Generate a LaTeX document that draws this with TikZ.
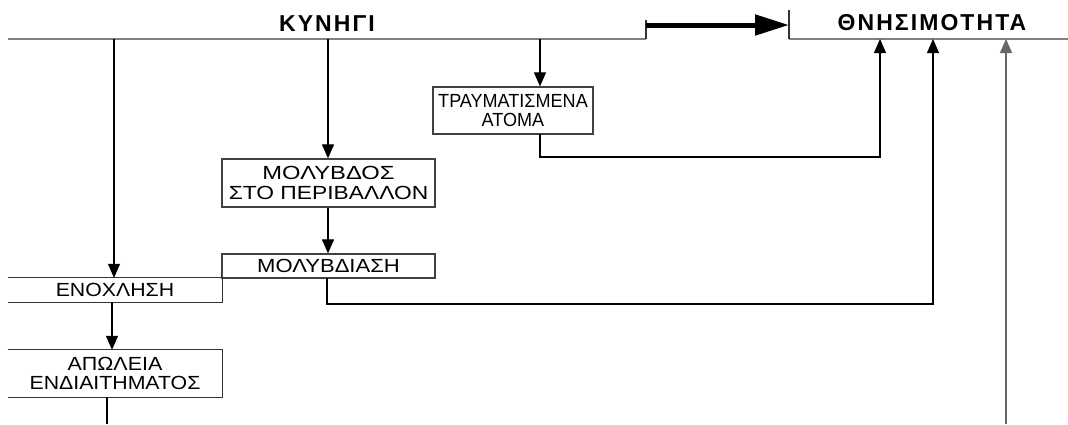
\documentclass[tikz,border=0pt]{standalone}
\usepackage{fontspec}
\usetikzlibrary{arrows.meta}
\newfontfamily\boxfont{Liberation Sans}
\newfontfamily\titlefont[LetterSpace=9]{Liberation Sans}
% horizontally resized line of box text
\newcommand{\widen}[2]{\scalebox{#1}[1]{#2}}
\begin{document}
\begin{tikzpicture}[x=1pt,y=-1pt,
  line/.style={line width=1.1pt,draw=black!80},
  rule/.style={line width=1.5pt,draw=black!50},
  arr/.style={line width=1.1pt,draw=black,-{Triangle[length=14pt,width=12pt]}},
  link/.style={line width=1.1pt,draw=black},
  label/.style={font=\boxfont\fontsize{19}{19.5}\selectfont,align=center,inner sep=0pt},
  title/.style={font=\titlefont\bfseries\fontsize{23}{24}\selectfont,inner sep=0pt},
  boxed/.style={label,draw=black!75,line width=1.2pt}]
\useasboundingbox[fill=white] (0,0) rectangle (1068,424);

% headings and their rules
\node[title] (hunt) at (327,24) {ΚΥΝΗΓΙ};
\node[title] (death) at (932,23) {ΘΝΗΣΙΜΟΤΗΤΑ};
\coordinate (huntW) at (8,39);
\coordinate (huntE) at (646,39);
\coordinate (deathW) at (789,39);
\coordinate (deathE) at (1068,39);
\draw[rule] (huntW) -- (huntE);
\draw[rule] (deathW) -- (deathE);
\draw[line] (huntE) -- ++(0,-19);
\draw[line] (deathW) -- ++(0,-29);
\coordinate (bigS) at (646,25);
\coordinate (bigT) at (789,25);
\draw[line width=5pt,-{Triangle[length=34pt,width=20pt]}] (bigS) -- (bigT);

% boxes
\node[boxed,minimum width=160pt,minimum height=47pt] (inj) at (513,110.5)
  {\widen{0.95}{ΤΡΑΥΜΑΤΙΣΜΕΝΑ}\\\widen{0.95}{ΑΤΟΜΑ}};
\node[boxed,minimum width=213pt,minimum height=48pt] (lead) at (328.5,183)
  {\widen{1.25}{ΜΟΛΥΒΔΟΣ}\\\widen{1.20}{ΣΤΟ ΠΕΡΙΒΑΛΛΟΝ}};
\node[boxed,minimum width=213pt,minimum height=24pt] (pois) at (328.5,266)
  {\widen{1.16}{ΜΟΛΥΒΔΙΑΣΗ}};
\node[label,minimum width=214pt,minimum height=24pt] (dist) at (115,290)
  {\widen{1.12}{ΕΝΟΧΛΗΣΗ}};
\node[label,minimum width=214pt,minimum height=47pt] (hab) at (115,373.5)
  {\widen{1.13}{ΑΠΩΛΕΙΑ}\\\widen{1.12}{ΕΝΔΙΑΙΤΗΜΑΤΟΣ}};
\draw[line] (dist.north west) -- (dist.north east) -- (dist.south east) -- (dist.south west);
\draw[line] (hab.north west) -- (hab.north east) -- (hab.south east) -- (hab.south west);

% connectors from the hunting rule
\coordinate (h1) at (114,39);
\coordinate (h2) at (328,39);
\coordinate (h3) at (540,39);
\draw[arr] (h1) -- (h1 |- dist.north);
\draw[arr] (h2) -- (h2 |- lead.north);
\draw[arr] (h3) -- (h3 |- inj.north);

% chain of effects
\draw[arr] (lead.south -| h2) -- (pois.north -| h2);
\coordinate (d1) at (112,302);
\draw[arr] (d1) -- (d1 |- hab.north);

% paths to mortality
\coordinate (m1) at (880,39);
\coordinate (m2) at (933,39);
\coordinate (m3) at (1006,39);
\coordinate (injB) at (540,134);
\coordinate (poisB) at (327,278);
\draw[arr] (injB) |- (880,157) -- (m1);
\draw[arr] (poisB) |- (933,304) -- (m2);
\coordinate (bottomR) at (1006,424);
\draw[arr,draw=black!60] (bottomR) -- (m3);

% line leaving the habitat box
\coordinate (habB) at (107,397);
\draw[link] (habB) -- (107,424);
\end{tikzpicture}
\end{document}
